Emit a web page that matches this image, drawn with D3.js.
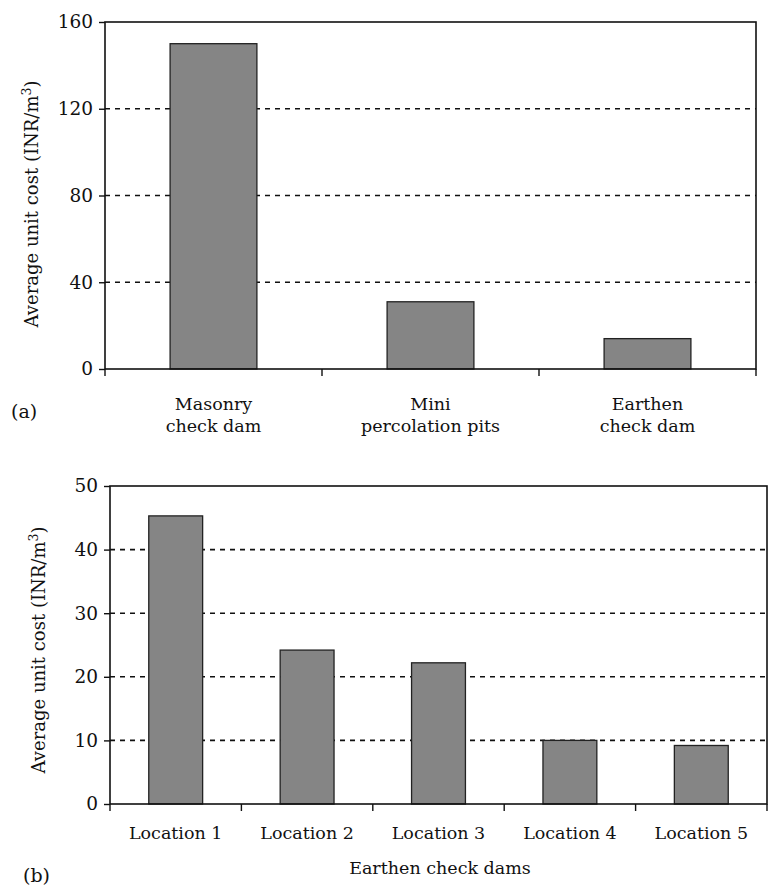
<!DOCTYPE html>
<html>
<head>
<meta charset="utf-8">
<script src="https://cdn.jsdelivr.net/npm/d3@7"></script>
<style>
  body { margin: 0; background: #fff; }
  svg text { font-family: "DejaVu Serif", "Liberation Serif", serif; fill: #111; }
</style>
</head>
<body>
<div id="chart"></div>
<script>
// Panel (a): structure types
const typeLabels = [["Masonry", "check dam"], ["Mini", "percolation pits"], ["Earthen", "check dam"]];
const typeCosts = [150, 31, 14];
const typeTicks = [0, 40, 80, 120, 160];

// Panel (b): earthen check dams by location
const locationLabels = ["Location 1", "Location 2", "Location 3", "Location 4", "Location 5"];
const locationCosts = [45.3, 24.2, 22.2, 10, 9.2];
const locationTicks = [0, 10, 20, 30, 40, 50];

const width = 769, height = 890;

const svg = d3.select("#chart")
    .append("svg")
    .attr("width", width)
    .attr("height", height);

// draws one bar panel with frame, dashed grid and ticks
function drawPanel(cfg) {
    const x = d3.scaleBand()
        .domain(d3.range(cfg.values.length))
        .range([cfg.left, cfg.right])
        .paddingInner(cfg.pad)
        .paddingOuter(cfg.pad / 2);
    const step = x.step();

    const y = d3.scaleLinear()
        .domain([0, cfg.max])
        .range([cfg.bottom, cfg.top]);

    const g = svg.append("g");

    // dashed grid lines (not at 0 or max)
    g.selectAll(".grid")
        .data(cfg.ticks.filter(t => t > 0 && t < cfg.max))
        .enter().append("line")
        .attr("x1", cfg.left)
        .attr("x2", cfg.right)
        .attr("y1", d => y(d))
        .attr("y2", d => y(d))
        .attr("stroke", "#111")
        .attr("stroke-width", 1.6)
        .attr("stroke-dasharray", "5,5");

    // bars
    g.selectAll(".bar")
        .data(cfg.values)
        .enter().append("rect")
        .attr("x", (d, i) => x(i))
        .attr("y", d => y(d))
        .attr("width", x.bandwidth())
        .attr("height", d => y(0) - y(d))
        .attr("fill", "#858585")
        .attr("stroke", "#222")
        .attr("stroke-width", 1.3);

    // frame
    g.append("rect")
        .attr("x", cfg.left)
        .attr("y", cfg.top)
        .attr("width", cfg.right - cfg.left)
        .attr("height", cfg.bottom - cfg.top)
        .attr("fill", "none")
        .attr("stroke", "#111")
        .attr("stroke-width", 1.6);

    // y axis
    const yAxis = d3.axisLeft(y)
        .tickValues(cfg.ticks)
        .tickSize(6)
        .tickPadding(6);
    const ya = g.append("g")
        .attr("transform", `translate(${cfg.left},0)`)
        .call(yAxis);
    ya.select(".domain").remove();
    ya.selectAll("line").attr("stroke", "#111").attr("stroke-width", 1.4);
    ya.selectAll("text")
        .style("font-size", "18.5px")
        .style("font-family", "'DejaVu Serif', serif")
        .attr("fill", "#111");

    // x tick marks at category boundaries
    const bounds = d3.range(cfg.values.length + 1).map(i => cfg.left + i * step);
    g.selectAll(".xtick")
        .data(bounds)
        .enter().append("line")
        .attr("x1", d => d)
        .attr("x2", d => d)
        .attr("y1", cfg.bottom)
        .attr("y2", cfg.bottom + 7)
        .attr("stroke", "#111")
        .attr("stroke-width", 1.4);

    // category labels
    const lab = g.selectAll(".xlab")
        .data(cfg.labels)
        .enter().append("text")
        .attr("text-anchor", "middle")
        .attr("x", (d, i) => x(i) + x.bandwidth() / 2)
        .attr("y", cfg.labelY)
        .style("font-size", "17.5px");
    lab.selectAll("tspan")
        .data(d => Array.isArray(d) ? d : [d])
        .enter().append("tspan")
        .attr("x", function () { return d3.select(this.parentNode).attr("x"); })
        .attr("dy", (d, i) => i === 0 ? 0 : 22)
        .text(d => d);

    // y title
    const yt = g.append("text")
        .attr("transform", `translate(${cfg.titleX},${cfg.titleY}) rotate(-90)`)
        .attr("text-anchor", "middle")
        .style("font-size", "18px");
    yt.append("tspan").text("Average unit cost (INR/m");
    yt.append("tspan").attr("dy", -7).style("font-size", "12.5px").text("3");
    yt.append("tspan").attr("dy", 7).text(")");

    // panel tag
    g.append("text")
        .attr("x", cfg.tagX)
        .attr("y", cfg.tagY)
        .style("font-size", "19px")
        .text(cfg.tag);

    return { x, y, g };
}

drawPanel({
    values: typeCosts, labels: typeLabels, ticks: typeTicks, max: 160,
    left: 105, right: 756, top: 22, bottom: 369, pad: 0.6,
    labelY: 410, titleX: 38, titleY: 204,
    tag: "(a)", tagX: 11, tagY: 418
});

const b = drawPanel({
    values: locationCosts, labels: locationLabels, ticks: locationTicks, max: 50,
    left: 110, right: 767, top: 486, bottom: 804, pad: 0.59,
    labelY: 839, titleX: 45, titleY: 650,
    tag: "(b)", tagX: 23, tagY: 882
});

// x axis title for panel (b)
b.g.append("text")
    .attr("x", 440)
    .attr("y", 874)
    .attr("text-anchor", "middle")
    .style("font-size", "17.5px")
    .text("Earthen check dams");
</script>
</body>
</html>
